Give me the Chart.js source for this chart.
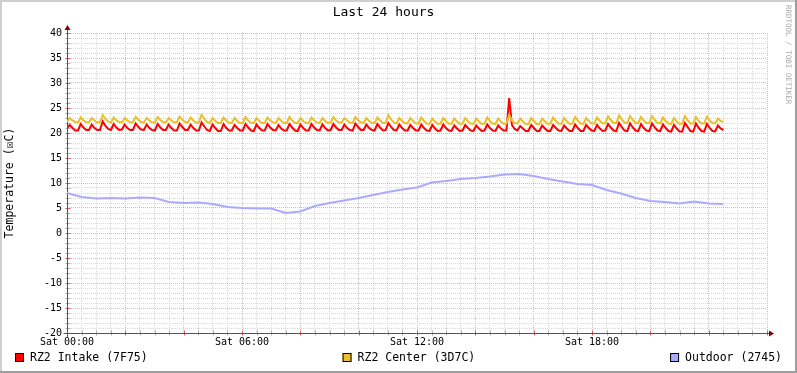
<!DOCTYPE html>
<html>
<head>
<meta charset="utf-8">
<title>Last 24 hours</title>
<script src="https://cdn.jsdelivr.net/npm/chart.js@4.4.1/dist/chart.umd.min.js"></script>
<style>
  html, body { margin: 0; padding: 0; background: #fff; }
  canvas { display: block; }
</style>
</head>
<body>
<canvas id="tempChart" width="797" height="373"></canvas>
<script>
// tick labels / series names
const timeLabels = ['Sat 00:00', 'Sat 06:00', 'Sat 12:00', 'Sat 18:00'];
const seriesNames = ['RZ2 Intake (7F75)', 'RZ2 Center (3D7C)', 'Outdoor (2745)'];

// sample spacing (minutes) of the values
const sampleMinutes = 5.65;
const outdoorMinutes = 30;

// RZ2 Intake, degC
const intake = [
  21.0,21.6,21.0,20.5, 20.5,21.8,21.1,20.6, 20.6,21.7,21.0,20.6, 20.6,22.3,21.4,20.8,
  20.6,21.8,21.1,20.6, 20.7,21.7,21.0,20.6, 20.6,21.9,21.2,20.7, 20.6,21.7,21.0,20.6,
  20.5,21.8,21.1,20.6, 20.6,21.7,21.0,20.5, 20.5,21.9,21.2,20.6, 20.6,21.7,21.0,20.5,
  20.5,22.1,21.3,20.6, 20.4,21.7,21.0,20.4, 20.4,21.8,21.0,20.5, 20.5,21.6,21.0,20.5,
  20.5,21.8,21.1,20.5, 20.4,21.7,21.0,20.5, 20.5,21.8,21.1,20.6, 20.5,21.6,20.9,20.5,
  20.5,21.8,21.1,20.5, 20.4,21.7,21.0,20.5, 20.5,21.8,21.1,20.6, 20.5,21.7,21.0,20.5,
  20.6,21.8,21.1,20.6, 20.6,21.7,21.0,20.6, 20.5,21.9,21.2,20.6, 20.6,21.7,21.0,20.6,
  20.5,21.8,21.1,20.5, 20.6,22.0,21.2,20.6, 20.5,21.7,21.0,20.5, 20.5,21.6,21.0,20.5,
  20.5,21.7,21.0,20.5, 20.4,21.6,20.9,20.4, 20.5,21.7,21.0,20.5, 20.4,21.5,20.9,20.4,
  20.5,21.6,21.0,20.5, 20.4,21.5,20.9,20.4, 20.5,21.7,21.0,20.5, 20.4,21.5,20.9,20.5,
  20.5,27.0,21.6,20.8, 20.5,21.4,20.9,20.4, 20.4,21.6,21.0,20.4, 20.4,21.5,20.9,20.4,
  20.4,21.6,21.0,20.5, 20.4,21.5,20.9,20.4, 20.4,21.7,21.0,20.4, 20.4,21.6,21.0,20.5,
  20.4,21.6,20.9,20.4, 20.5,21.8,21.1,20.5, 20.4,22.0,21.2,20.5, 20.4,21.9,21.1,20.5,
  20.4,21.8,21.0,20.5, 20.4,21.9,21.1,20.5, 20.4,21.7,21.0,20.4, 20.3,21.6,20.9,20.3,
  20.3,22.0,21.2,20.4, 20.3,21.9,21.0,20.4, 20.3,21.8,21.0,20.4, 20.3,21.5,20.9,20.6
];

// RZ2 Center, degC
const center = [
  22.2,23.0,22.5,22.2, 22.1,23.1,22.5,22.2, 22.1,23.0,22.5,22.1, 22.2,23.6,22.8,22.3,
  22.1,23.1,22.5,22.2, 22.1,23.0,22.5,22.1, 22.2,23.2,22.6,22.2, 22.1,23.0,22.5,22.1,
  22.1,23.2,22.6,22.2, 22.1,23.0,22.5,22.1, 22.2,23.3,22.6,22.2, 22.1,23.1,22.5,22.1,
  22.1,23.7,22.8,22.2, 22.0,23.0,22.4,22.0, 22.0,23.1,22.5,22.0, 22.0,23.0,22.4,22.0,
  22.0,23.2,22.5,22.0, 22.0,23.0,22.4,22.0, 22.0,23.1,22.5,22.1, 22.0,23.0,22.4,22.0,
  22.0,23.2,22.5,22.0, 22.0,23.0,22.4,22.0, 22.0,23.1,22.5,22.1, 22.0,23.0,22.4,22.0,
  22.1,23.2,22.5,22.1, 22.1,23.0,22.5,22.1, 22.0,23.2,22.6,22.1, 22.0,23.0,22.4,22.0,
  22.0,23.1,22.5,22.0, 22.0,23.6,22.7,22.1, 21.9,23.0,22.4,22.0, 21.9,23.0,22.4,21.9,
  21.9,23.1,22.4,21.9, 21.8,22.9,22.3,21.8, 21.9,23.0,22.4,21.9, 21.8,22.9,22.3,21.8,
  21.9,23.0,22.3,21.9, 21.8,22.9,22.3,21.8, 21.9,23.1,22.4,21.9, 21.8,22.9,22.3,21.8,
  21.9,23.6,22.5,22.0, 21.9,22.9,22.3,21.8, 21.8,23.0,22.4,21.8, 21.8,22.9,22.3,21.8,
  21.9,23.1,22.4,21.9, 21.8,23.0,22.3,21.8, 21.9,23.2,22.5,21.9, 21.8,23.0,22.4,21.9,
  21.9,23.1,22.4,21.9, 22.0,23.3,22.6,22.0, 22.0,23.5,22.7,22.1, 22.0,23.4,22.6,22.0,
  22.0,23.2,22.5,22.0, 22.0,23.4,22.6,22.0, 21.9,23.1,22.4,21.9, 21.8,23.0,22.3,21.8,
  21.9,23.4,22.5,21.9, 21.9,23.2,22.4,21.9, 21.9,23.3,22.5,22.0, 21.9,22.9,22.4,22.2
];

// Outdoor, degC, every 30 minutes
const outdoor = [
  8.0, 7.2, 6.9, 7.0, 6.9, 7.1, 7.0, 6.2, 6.0, 6.1,
  5.8, 5.2, 5.0, 4.9, 4.9, 4.0, 4.3, 5.4, 6.0, 6.5,
  7.0, 7.6, 8.2, 8.7, 9.1, 10.1, 10.4, 10.8, 11.0, 11.3,
  11.7, 11.8, 11.4, 10.8, 10.3, 9.8, 9.6, 8.6, 7.9, 7.0,
  6.4, 6.2, 5.9, 6.3, 5.9, 5.8
];

const FONT = '"DejaVu Sans Mono", "Liberation Mono", monospace';
const MINOR = '#d9d9d9';
const MAJOR = 'rgba(222, 80, 80, 0.45)';

function toPoints(values, step) {
  return values.map((v, i) => ({ x: i * step, y: v }));
}

// frame, axes with arrows, legend row and the vertical credit text
const rrdDecor = {
  id: 'rrdDecor',
  beforeDraw(chart) {
    const ctx = chart.ctx;
    const w = chart.width, h = chart.height;
    ctx.save();
    ctx.fillStyle = '#ffffff';
    ctx.fillRect(0, 0, w, h);
    ctx.fillStyle = '#cfcfcf';
    ctx.fillRect(0, 0, w, 2);
    ctx.fillRect(0, 0, 2, h);
    ctx.fillStyle = '#9e9e9e';
    ctx.fillRect(w - 2, 0, 2, h);
    ctx.fillRect(0, h - 2, w, 2);
    ctx.restore();
  },
  beforeDatasetsDraw(chart) {
    const ctx = chart.ctx;
    const a = chart.chartArea;
    const xs = chart.scales.x, ys = chart.scales.y;
    const bx = Math.round(a.left) + 0.5;
    const by = Math.round(a.bottom) + 0.5;
    ctx.save();
    // little solid ticks on the axes
    ctx.lineWidth = 1;
    xs.ticks.forEach((t, i) => {
      const px = Math.round(xs.getPixelForTick(i)) + 0.5;
      ctx.strokeStyle = t.value % 120 === 0 ? '#d06060' : '#b0b0b0';
      ctx.beginPath();
      ctx.moveTo(px, by - 3);
      ctx.lineTo(px, by + 2);
      ctx.stroke();
    });
    ys.ticks.forEach((t, i) => {
      const py = Math.round(ys.getPixelForTick(i)) + 0.5;
      ctx.strokeStyle = t.value % 5 === 0 ? '#d06060' : '#b0b0b0';
      ctx.beginPath();
      ctx.moveTo(bx - 2, py);
      ctx.lineTo(bx + 3, py);
      ctx.stroke();
    });
    // axis lines
    ctx.strokeStyle = '#5a5050';
    ctx.beginPath();
    ctx.moveTo(bx - 4, by);
    ctx.lineTo(a.right + 3, by);
    ctx.moveTo(bx, by + 4);
    ctx.lineTo(bx, a.top - 4);
    ctx.stroke();
    // arrows
    ctx.fillStyle = '#7f0000';
    ctx.beginPath();
    ctx.moveTo(a.right + 7, by);
    ctx.lineTo(a.right + 2, by - 3);
    ctx.lineTo(a.right + 2, by + 3);
    ctx.closePath();
    ctx.fill();
    ctx.beginPath();
    ctx.moveTo(bx, a.top - 8);
    ctx.lineTo(bx - 3, a.top - 3);
    ctx.lineTo(bx + 3, a.top - 3);
    ctx.closePath();
    ctx.fill();
    ctx.restore();
  },
  afterDraw(chart) {
    const ctx = chart.ctx;
    const w = chart.width;
    ctx.save();
    // legend, justified across the width like rrdtool does
    ctx.font = '11.5px ' + FONT;
    ctx.textBaseline = 'middle';
    const box = 9, gap = 6, margin = 15;
    const items = chart.data.datasets.map(ds => ({ label: ds.label, color: ds.borderColor }));
    const widths = items.map(it => box + gap + ctx.measureText(it.label).width);
    const total = widths.reduce((s, v) => s + v, 0);
    const space = (w - 2 * margin - total) / (items.length - 1);
    const ly = chart.chartArea.bottom + 25;
    let x = margin;
    items.forEach((it, i) => {
      ctx.fillStyle = it.color;
      ctx.fillRect(x, ly - 5, box, box);
      ctx.strokeStyle = '#000';
      ctx.lineWidth = 1;
      ctx.strokeRect(x + 0.5, ly - 4.5, box - 1, box - 1);
      ctx.fillStyle = '#000';
      ctx.fillText(it.label, x + box + gap, ly);
      x += widths[i] + space;
    });
    // credit text on the right edge
    ctx.translate(w - 9, 5);
    ctx.rotate(Math.PI / 2);
    ctx.font = '7.5px ' + FONT;
    ctx.fillStyle = '#aaaaaa';
    ctx.textBaseline = 'middle';
    ctx.textAlign = 'left';
    ctx.fillText('RRDTOOL / TOBI OETIKER', 0, 0);
    ctx.restore();
  }
};

const ctx = document.getElementById('tempChart').getContext('2d');
const tempChart = new Chart(ctx, {
  type: 'line',
  data: {
    datasets: [{
      label: seriesNames[0],
      data: toPoints(intake, sampleMinutes),
      borderColor: '#ff0000',
      backgroundColor: '#ff0000',
      borderWidth: 2,
      order: 1
    }, {
      label: seriesNames[1],
      data: toPoints(center, sampleMinutes),
      borderColor: '#e8c02a',
      backgroundColor: '#e8c02a',
      borderWidth: 2,
      order: 0
    }, {
      label: seriesNames[2],
      data: toPoints(outdoor, outdoorMinutes),
      borderColor: '#aaaaff',
      backgroundColor: '#aaaaff',
      borderWidth: 2,
      order: 2
    }]
  },
  options: {
    responsive: false,
    animation: false,
    parsing: false,
    elements: {
      point: { radius: 0 },
      line: { tension: 0, fill: false }
    },
    layout: { padding: { left: 0, top: 0, right: 30, bottom: 0 } },
    plugins: {
      legend: { display: false },
      tooltip: { enabled: false },
      title: {
        display: true,
        text: 'Last 24 hours',
        color: '#000',
        font: { family: FONT, size: 13, weight: 'normal' },
        padding: { top: 5, bottom: 12.4 }
      }
    },
    scales: {
      x: {
        type: 'linear',
        min: 0,
        max: 1440,
        afterFit(scale) { scale.height = 40; },
        border: { display: false, dash: [1, 1] },
        grid: {
          color: c => (c.tick && c.tick.value % 120 === 0) ? MAJOR : MINOR,
          lineWidth: 1,
          drawTicks: false
        },
        ticks: {
          stepSize: 30,
          maxTicksLimit: 1000,
          autoSkip: false,
          maxRotation: 0,
          minRotation: 0,
          padding: 3,
          color: '#000',
          font: { family: FONT, size: 10 },
          callback: v => (v % 360 === 0 && v / 360 < timeLabels.length) ? timeLabels[v / 360] : ''
        }
      },
      y: {
        min: -20,
        max: 40,
        afterFit(scale) { scale.width = 67; },
        border: { display: false, dash: [1, 1] },
        grid: {
          color: c => (c.tick && c.tick.value % 5 === 0) ? MAJOR : MINOR,
          lineWidth: 1,
          drawTicks: false
        },
        title: {
          display: true,
          text: 'Temperature (\u2612C)',
          color: '#000',
          font: { family: FONT, size: 11.5 },
          padding: { top: 3, bottom: 0 }
        },
        ticks: {
          stepSize: 1,
          maxTicksLimit: 1000,
          autoSkip: false,
          padding: 5,
          color: '#000',
          font: { family: FONT, size: 10 },
          callback: v => v % 5 === 0 ? String(v) : ''
        }
      }
    }
  },
  plugins: [rrdDecor]
});
</script>
</body>
</html>
